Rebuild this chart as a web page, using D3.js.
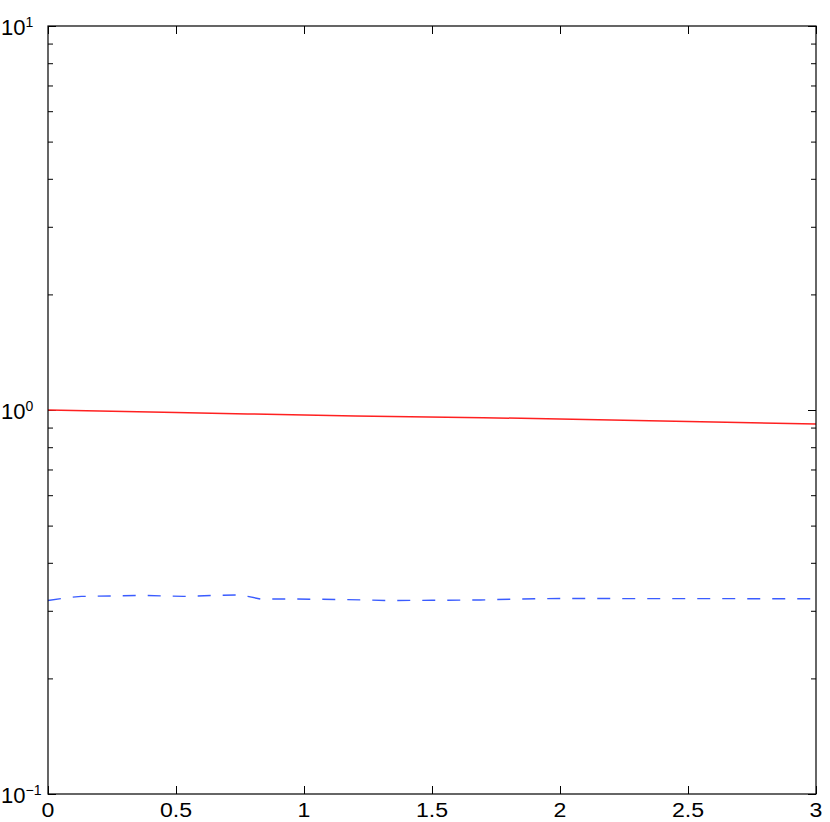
<!DOCTYPE html>
<html><head><meta charset="utf-8">
<script src="https://cdn.jsdelivr.net/npm/d3@7"></script>
<style>html,body{margin:0;padding:0;background:#fff;}</style>
</head><body>
<svg id="c" width="830" height="822"></svg>
<script>
const redX = [0, 0.5, 0.78, 1.2, 1.7, 2.2, 2.6, 3.0];
const redY = [1.0, 0.985, 0.977, 0.965, 0.955, 0.942, 0.93, 0.919];
const blueX = [0, 0.08, 0.13, 0.25, 0.36, 0.53, 0.65, 0.75, 0.78, 0.83, 0.95, 1.14, 1.34, 1.5, 1.69, 1.84, 2.0, 2.4, 2.7, 3.0];
const blueY = [0.319, 0.325, 0.327, 0.328, 0.329, 0.327, 0.329, 0.330, 0.327, 0.322, 0.322, 0.321, 0.319, 0.3195, 0.320, 0.322, 0.323, 0.3226, 0.3226, 0.3225];
const xTicks = [0, 0.5, 1, 1.5, 2, 2.5, 3];
const xTickLabels = ["0", "0.5", "1", "1.5", "2", "2.5", "3"];
const yTicks = [0.1, 1, 10];
const yTickExp = ["\u22121", "0", "1"];

const L = 48, T = 26, W = 768, H = 768;
const svg = d3.select("#c");
const x = d3.scaleLinear().domain([0, 3]).range([L, L + W]);
const y = d3.scaleLog().domain([0.1, 10]).range([T + H, T]);

const minor = [];
for (const d of [0.1, 1]) for (let k = 2; k <= 9; k++) minor.push(d * k);

const g = svg.append("g");
const font = "'Liberation Sans', Arial, Helvetica, sans-serif";

function addTicks(axisGen, transform) {
  const a = g.append("g").attr("transform", transform).call(axisGen);
  a.select(".domain").remove();
  a.selectAll("line").attr("stroke", "#000").attr("stroke-width", 1);
  a.selectAll("text").remove();
}
addTicks(d3.axisBottom(x).tickValues(xTicks).tickSizeInner(-8).tickSizeOuter(0), `translate(0,${T + H})`);
addTicks(d3.axisTop(x).tickValues(xTicks).tickSizeInner(-8).tickSizeOuter(0), `translate(0,${T})`);
addTicks(d3.axisLeft(y).tickValues(yTicks).tickSizeInner(-8).tickSizeOuter(0), `translate(${L},0)`);
addTicks(d3.axisRight(y).tickValues(yTicks).tickSizeInner(-8).tickSizeOuter(0), `translate(${L + W},0)`);
addTicks(d3.axisLeft(y).tickValues(minor).tickSizeInner(-5).tickSizeOuter(0), `translate(${L},0)`);
addTicks(d3.axisRight(y).tickValues(minor).tickSizeInner(-5).tickSizeOuter(0), `translate(${L + W},0)`);

const line = d3.line().x(d => x(d[0])).y(d => y(d[1]));
g.append("path").datum(redX.map((v, i) => [v, redY[i]]))
  .attr("d", line).attr("fill", "none").attr("stroke", "#ff2020").attr("stroke-width", 1.5);
g.append("path").datum(blueX.map((v, i) => [v, blueY[i]]))
  .attr("d", line).attr("fill", "none").attr("stroke", "#3a5cff").attr("stroke-width", 1.4)
  .attr("stroke-dasharray", "13,12");

g.append("rect").attr("x", L).attr("y", T).attr("width", W).attr("height", H)
  .attr("fill", "none").attr("stroke", "#000").attr("stroke-width", 1.2);

g.selectAll(".xl").data(xTicks).enter().append("text")
  .attr("transform", d => `translate(${x(d)},${T + H + 23}) scale(1.1,1)`)
  .attr("text-anchor", "middle").attr("font-family", font).attr("font-size", 21)
  .text((d, i) => xTickLabels[i]);

yTicks.forEach((v, i) => {
  const t = g.append("text").attr("x", 1).attr("y", y(v) + 9)
    .attr("text-anchor", "start").attr("font-family", font).attr("font-size", 22);
  t.append("tspan").text("10");
  t.append("tspan").attr("dy", -8).attr("font-size", 14).text(yTickExp[i]);
});
</script>
</body></html>
